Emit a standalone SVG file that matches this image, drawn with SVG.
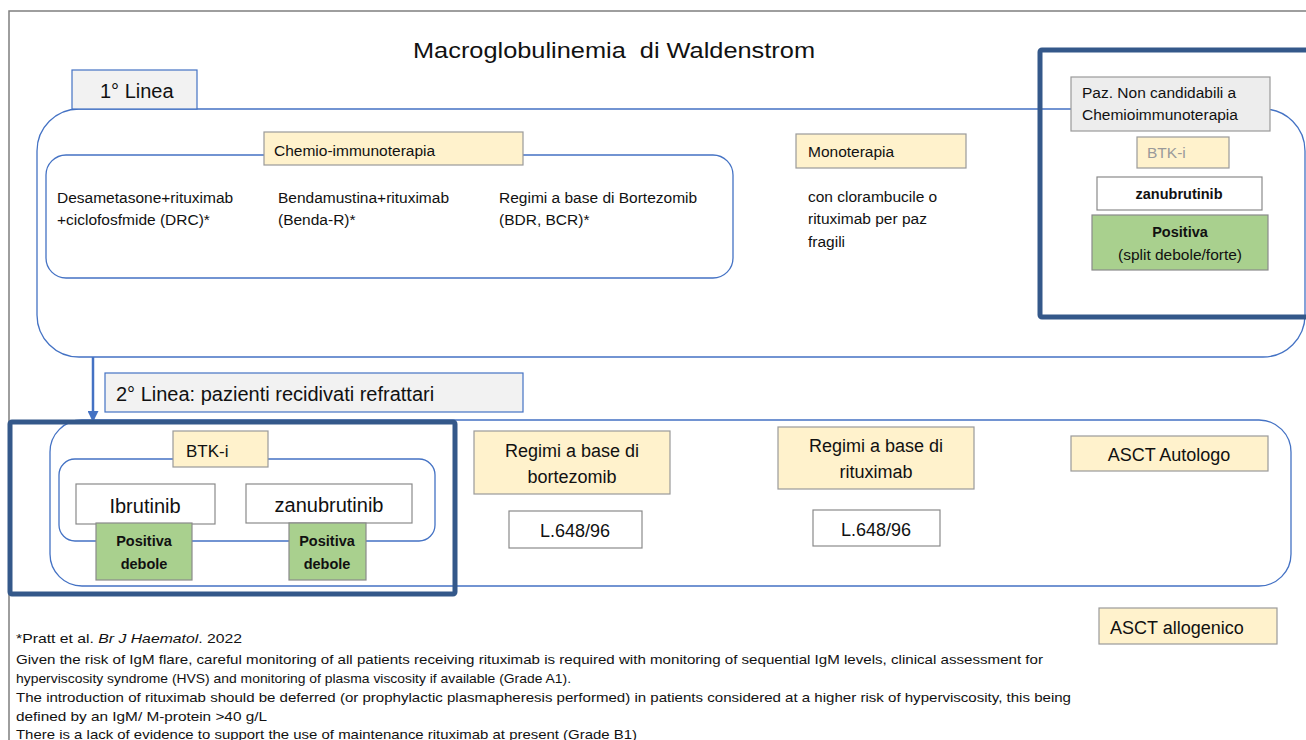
<svg xmlns="http://www.w3.org/2000/svg" width="1306" height="740" viewBox="0 0 1306 740">
<defs>
<style>
text{font-family:"Liberation Sans",Arial,sans-serif;fill:#111}
.frame{fill:none;stroke:#7f7f7f;stroke-width:1.5}
.group{fill:#fff;stroke:#4472c4;stroke-width:1.3}
.hdr{fill:#f2f2f2;stroke:#4472c4;stroke-width:1.2}
.yel{fill:#fff2cc;stroke:#9a9a9a;stroke-width:1.2}
.wht{fill:#fff;stroke:#8a8a8a;stroke-width:1.2}
.grn{fill:#a9d08e;stroke:#8a8a8a;stroke-width:1.2}
.gry{fill:#ededed;stroke:#9a9a9a;stroke-width:1.2}
.hl{fill:none;stroke:#34588a;stroke-width:5}
.t16{font-size:15.5px}
.t18{font-size:18px}
.b{font-weight:bold;font-size:14.5px}
.c{text-anchor:middle}
.fn{font-size:12.6px}
</style>
<marker id="arr" viewBox="0 0 10 10" refX="9" refY="5" markerWidth="11" markerHeight="11" orient="auto" markerUnits="userSpaceOnUse">
<path d="M0,0 L10,5 L0,10 z" fill="#4472c4"/>
</marker>
</defs>
<rect width="1306" height="740" fill="#fff"/>
<path class="frame" d="M9,760 L9,11 L1310,11"/>
<text x="614" y="58" class="c" style="font-size:22px;white-space:pre" textLength="402" lengthAdjust="spacingAndGlyphs">Macroglobulinemia  di Waldenstrom</text>

<g id="line1">
<rect class="group" x="37" y="109" width="1268" height="248" rx="42" ry="42"/>
</g>
<g id="line1-header">
<rect class="hdr" x="72" y="70" width="125" height="39"/>
<text x="100" y="98" style="font-size:20px">1° Linea</text>
</g>

<g id="chemio">
<rect class="group" x="46" y="155" width="687" height="123" rx="20" ry="20"/>
<rect class="yel" x="264" y="132" width="259" height="33"/>
<text x="274" y="156" class="t16">Chemio-immunoterapia</text>
<text x="57" y="203" class="t16">Desametasone+rituximab</text>
<text x="57" y="225" class="t16">+ciclofosfmide (DRC)*</text>
<text x="278" y="203" class="t16">Bendamustina+rituximab</text>
<text x="278" y="225" class="t16">(Benda-R)*</text>
<text x="499" y="203" class="t16">Regimi a base di Bortezomib</text>
<text x="499" y="225" class="t16">(BDR, BCR)*</text>
</g>

<g id="monoterapia">
<rect class="yel" x="796" y="134" width="170" height="34"/>
<text x="808" y="157" class="t16">Monoterapia</text>
<text x="808" y="202" class="t16">con clorambucile o</text>
<text x="808" y="224" class="t16">rituximab per paz</text>
<text x="808" y="247" class="t16">fragili</text>
</g>

<g id="non-candidabili">
<rect class="hl" x="1040" y="50" width="280" height="267" rx="2"/>
<rect class="gry" x="1071" y="77" width="199" height="54"/>
<text x="1082" y="98" class="t16">Paz. Non candidabili a</text>
<text x="1082" y="120" class="t16">Chemioimmunoterapia</text>
<rect class="yel" x="1137" y="137" width="92" height="31"/>
<text x="1147" y="158" class="t16" style="fill:#9a9a9a">BTK-i</text>
<rect class="wht" x="1097" y="177" width="165" height="33"/>
<text x="1179" y="199" class="b c">zanubrutinib</text>
<rect class="grn" x="1092" y="215" width="176" height="55"/>
<text x="1180" y="237" class="b c">Positiva</text>
<text x="1180" y="260" class="t16 c">(split debole/forte)</text>
</g>

<g id="connectors">
<line x1="93" y1="357" x2="93" y2="421" stroke="#4472c4" stroke-width="2.5" marker-end="url(#arr)"/>
</g>

<g id="line2">
<rect class="group" x="50" y="420" width="1241" height="166" rx="32" ry="32"/>
</g>
<g id="line2-header">
<rect class="hdr" x="105" y="373" width="418" height="39"/>
<text x="116" y="401" style="font-size:20px">2° Linea: pazienti recidivati refrattari</text>
</g>

<g id="btki">
<rect class="group" x="59" y="459" width="376" height="82" rx="16" ry="16"/>
<rect class="yel" x="173" y="431" width="95" height="36"/>
<text x="186" y="457" style="font-size:17px">BTK-i</text>
<rect class="wht" x="76" y="484" width="139" height="40"/>
<text x="145" y="513" class="c" style="font-size:20px">Ibrutinib</text>
<rect class="wht" x="246" y="484" width="166" height="39"/>
<text x="329" y="512" class="c" style="font-size:20px">zanubrutinib</text>
<rect class="grn" x="96" y="523" width="96" height="57"/>
<text x="144" y="546" class="b c">Positiva</text>
<text x="144" y="569" class="b c">debole</text>
<rect class="grn" x="289" y="523" width="77" height="57"/>
<text x="327" y="546" class="b c">Positiva</text>
<text x="327" y="569" class="b c">debole</text>
<rect class="hl" x="10" y="422" width="445" height="172" rx="2"/>
</g>

<g id="bortezomib">
<rect class="yel" x="474" y="431" width="196" height="63"/>
<text x="572" y="457" class="t18 c">Regimi a base di</text>
<text x="572" y="483" class="t18 c">bortezomib</text>
<rect class="wht" x="509" y="511" width="133" height="37"/>
<text x="575" y="537" class="t18 c">L.648/96</text>
</g>

<g id="rituximab">
<rect class="yel" x="778" y="427" width="196" height="62"/>
<text x="876" y="452" class="t18 c">Regimi a base di</text>
<text x="876" y="478" class="t18 c">rituximab</text>
<rect class="wht" x="813" y="510" width="127" height="36"/>
<text x="876" y="536" class="t18 c">L.648/96</text>
</g>

<g id="asct-auto">
<rect class="yel" x="1071" y="436" width="197" height="35"/>
<text x="1169" y="461" class="t18 c">ASCT Autologo</text>
</g>

<g id="asct-allo">
<rect class="yel" x="1099" y="608" width="178" height="36"/>
<text x="1110" y="634" class="t18">ASCT allogenico</text>
</g>

<g id="footnote" class="fn">
<text x="16" y="643" class="fn" textLength="226" lengthAdjust="spacingAndGlyphs">*Pratt et al. <tspan font-style="italic">Br J Haematol</tspan>. 2022</text>
<text x="16" y="664" class="fn" textLength="1027" lengthAdjust="spacingAndGlyphs">Given the risk of IgM flare, careful monitoring of all patients receiving rituximab is required with monitoring of sequential IgM levels, clinical assessment for</text>
<text x="16" y="683" class="fn" textLength="555" lengthAdjust="spacingAndGlyphs">hyperviscosity syndrome (HVS) and monitoring of plasma viscosity if available (Grade A1).</text>
<text x="16" y="702" class="fn" textLength="1055" lengthAdjust="spacingAndGlyphs">The introduction of rituximab should be deferred (or prophylactic plasmapheresis performed) in patients considered at a higher risk of hyperviscosity, this being</text>
<text x="16" y="721" class="fn" textLength="251" lengthAdjust="spacingAndGlyphs">defined by an IgM/ M-protein &gt;40 g/L</text>
<text x="16" y="739" class="fn" textLength="621" lengthAdjust="spacingAndGlyphs">There is a lack of evidence to support the use of maintenance rituximab at present (Grade B1)</text>
</g>
</svg>
